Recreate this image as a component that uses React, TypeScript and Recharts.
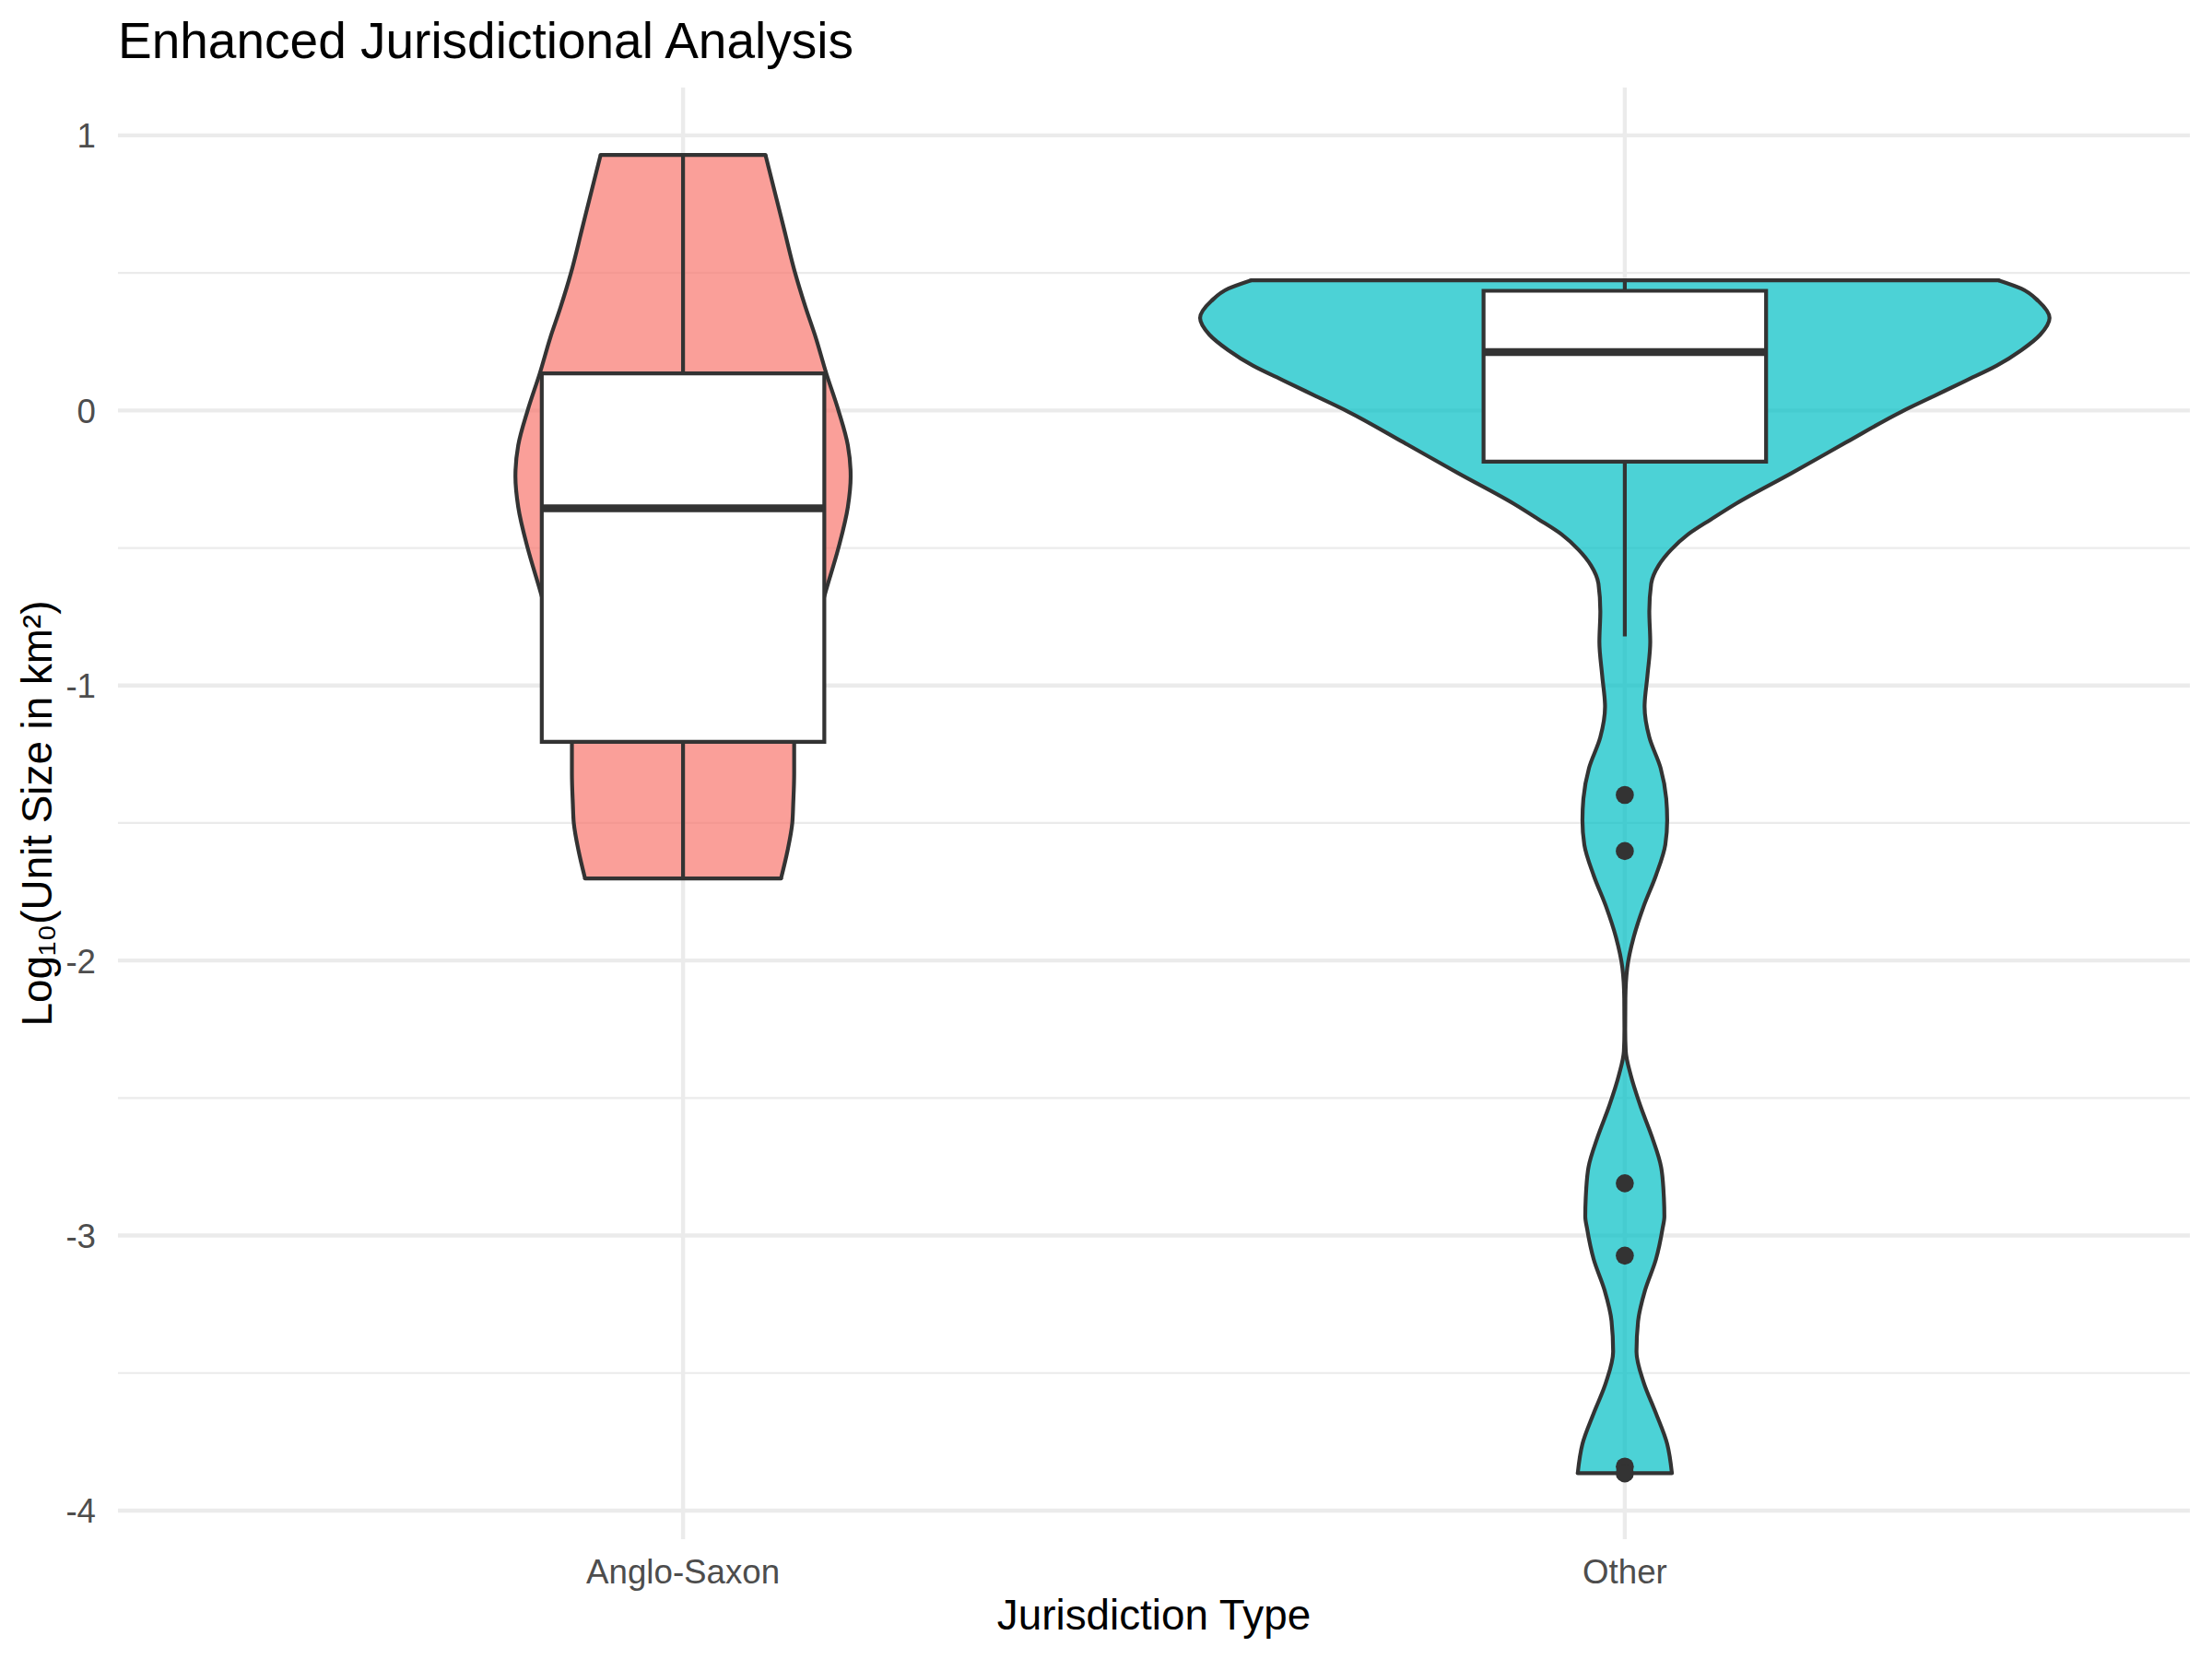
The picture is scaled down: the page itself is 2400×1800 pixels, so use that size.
import React from 'react';
import { ComposedChart, Area, Line, Scatter, XAxis, YAxis, CartesianGrid } from 'recharts';

const categories = ['Anglo-Saxon', 'Other'];

// violin outlines: log10 levels and half widths (in category units)
const angloLevels = [0.929, 0.766, 0.655, 0.5, 0.376, 0.264, 0.136, 0.0, -0.127, -0.239, -0.351, -0.5, -0.652, -0.8, -1.0, -1.2, -1.32, -1.43, -1.5, -1.6, -1.702];
const angloHalfWidths = [0.0875, 0.0995, 0.1076, 0.119, 0.13, 0.141, 0.152, 0.165, 0.175, 0.178, 0.175, 0.165, 0.152, 0.14, 0.127, 0.118, 0.118, 0.117, 0.116, 0.111, 0.104];

const otherLevels = [0.473, 0.443, 0.398, 0.336, 0.275, 0.219, 0.163, 0.108, 0.052, -0.004, -0.116, -0.228, -0.339, -0.395, -0.451, -0.507, -0.563, -0.63, -0.73, -0.842, -0.965, -1.077, -1.188, -1.3, -1.412, -1.49, -1.579, -1.691, -1.803, -1.914, -2.026, -2.138, -2.25, -2.33, -2.417, -2.529, -2.641, -2.752, -2.864, -2.93, -2.976, -3.087, -3.199, -3.311, -3.422, -3.534, -3.646, -3.758, -3.864];
const otherHalfWidths = [0.397, 0.421, 0.439, 0.451, 0.441, 0.421, 0.395, 0.362, 0.328, 0.294, 0.235, 0.177, 0.118, 0.092, 0.067, 0.049, 0.036, 0.028, 0.026, 0.027, 0.024, 0.021, 0.026, 0.038, 0.044, 0.045, 0.043, 0.033, 0.02, 0.0095, 0.0026, 0.0006, 0.0004, 0.001, 0.0063, 0.0166, 0.0288, 0.0386, 0.0415, 0.042, 0.04, 0.033, 0.0215, 0.0141, 0.0124, 0.02, 0.033, 0.045, 0.05];

// box plot stats per category
const boxLower = [-1.205, -0.186];
const boxMedian = [-0.356, 0.212];
const boxUpper = [0.135, 0.435];
const whiskerLow = [-1.702, -0.822];
const whiskerHigh = [0.929, 0.473];
const otherOutliers = [-1.398, -1.602, -2.81, -3.073, -3.84, -3.865];

const majorBreaks = [-4, -3, -2, -1, 0, 1];
const minorBreaks = [-3.5, -2.5, -1.5, -0.5, 0.5];

const FONT = "'Liberation Sans', Arial, Helvetica, sans-serif";
const INK = '#333333';
const fills = ['#F8766D', '#00BFC4'];
const BOX_HALF = 0.15;
const LINE_W = 4.2;

const profiles = [
  { levels: angloLevels, widths: angloHalfWidths },
  { levels: otherLevels, widths: otherHalfWidths },
];

const violinData = profiles.map((p, i) =>
  p.levels.map((v, j) => ({ v, band: [i + 1 - p.widths[j], i + 1 + p.widths[j]] }))
);

const violinEdges = profiles.flatMap((p, i) => {
  const last = p.levels.length - 1;
  return [
    [{ v: p.levels[0], x: i + 1 - p.widths[0] }, { v: p.levels[0], x: i + 1 + p.widths[0] }],
    [{ v: p.levels[last], x: i + 1 - p.widths[last] }, { v: p.levels[last], x: i + 1 + p.widths[last] }],
  ];
});

const boxFillData = categories.map((_, i) => [
  { v: boxUpper[i], band: [i + 1 - BOX_HALF, i + 1 + BOX_HALF] },
  { v: boxLower[i], band: [i + 1 - BOX_HALF, i + 1 + BOX_HALF] },
]);

const boxOutlineData = categories.map((_, i) => [
  { x: i + 1 - BOX_HALF, v: boxUpper[i] },
  { x: i + 1 + BOX_HALF, v: boxUpper[i] },
  { x: i + 1 + BOX_HALF, v: boxLower[i] },
  { x: i + 1 - BOX_HALF, v: boxLower[i] },
  { x: i + 1 - BOX_HALF, v: boxUpper[i] },
]);

const whiskerData = categories.flatMap((_, i) => [
  [{ x: i + 1, v: boxUpper[i] }, { x: i + 1, v: whiskerHigh[i] }],
  [{ x: i + 1, v: boxLower[i] }, { x: i + 1, v: whiskerLow[i] }],
]);

const medianData = categories.map((_, i) => [
  { x: i + 1 - BOX_HALF, v: boxMedian[i] },
  { x: i + 1 + BOX_HALF, v: boxMedian[i] },
]);

const outlierData = otherOutliers.map((v) => ({ x: 2, v }));

const XTick = ({ x, y, payload }: any) => (
  <text x={x} y={y + 48} textAnchor="middle" fontFamily={FONT} fontSize={36.7} fill="#4D4D4D">
    {categories[Math.round(payload.value) - 1]}
  </text>
);

const YTick = ({ x, y, payload }: any) => (
  <text x={x - 24} y={y + 13.5} textAnchor="end" fontFamily={FONT} fontSize={36.7} fill="#4D4D4D">
    {String(payload.value)}
  </text>
);

const XTitle = ({ viewBox }: any) => (
  <text x={viewBox.x + viewBox.width / 2} y={viewBox.y + 98} textAnchor="middle" fontFamily={FONT} fontSize={45.8} fill="#000">
    Jurisdiction Type
  </text>
);

const YTitle = ({ viewBox }: any) => {
  const cx = 56;
  const cy = viewBox.y + viewBox.height / 2;
  return (
    <text x={cx} y={cy} transform={`rotate(-90 ${cx} ${cy})`} textAnchor="middle" fontFamily={FONT} fontSize={45.8} fill="#000">
      Log₁₀(Unit Size in km²)
    </text>
  );
};

export default function App() {
  return (
    <div style={{ position: 'absolute', left: 0, top: 0, width: 2400, height: 1800, background: '#fff' }}>
      <svg width={2400} height={100} style={{ position: 'absolute', left: 0, top: 0 }}>
        <text x={128} y={63} fontFamily={FONT} fontSize={55} fill="#000">
          Enhanced Jurisdictional Analysis
        </text>
      </svg>
      <ComposedChart
        width={2400}
        height={1800}
        layout="vertical"
        margin={{ top: 95, right: 24, bottom: 0, left: 0 }}
      >
        <CartesianGrid horizontalValues={minorBreaks} vertical={false} stroke="#EBEBEB" strokeWidth={2.2} />
        <CartesianGrid horizontalValues={majorBreaks} verticalValues={[1, 2]} stroke="#EBEBEB" strokeWidth={4.4} />
        <XAxis
          type="number"
          dataKey="x"
          domain={[0.4, 2.6]}
          allowDataOverflow
          ticks={[1, 2]}
          height={130}
          axisLine={false}
          tickLine={false}
          tickSize={0}
          tickMargin={0}
          tick={<XTick />}
          label={XTitle}
        />
        <YAxis
          type="number"
          dataKey="v"
          domain={[-4.104, 1.174]}
          allowDataOverflow
          reversed
          ticks={majorBreaks}
          width={128}
          axisLine={false}
          tickLine={false}
          tickSize={0}
          tickMargin={0}
          tick={<YTick />}
          label={YTitle}
        />
        {violinData.map((d, i) => (
          <Area
            key={`violin-${i}`}
            data={d}
            dataKey="band"
            type="monotone"
            fill={fills[i]}
            fillOpacity={0.7}
            stroke={INK}
            strokeWidth={LINE_W}
            dot={false}
            activeDot={false}
            isAnimationActive={false}
          />
        ))}
        {boxFillData.map((d, i) => (
          <Area
            key={`boxfill-${i}`}
            data={d}
            dataKey="band"
            type="linear"
            fill="#FFFFFF"
            fillOpacity={1}
            stroke="none"
            dot={false}
            activeDot={false}
            isAnimationActive={false}
          />
        ))}
        {violinEdges.map((d, i) => (
          <Line key={`edge-${i}`} data={d} dataKey="x" type="linear" stroke={INK} strokeWidth={LINE_W} strokeLinecap="round" dot={false} activeDot={false} isAnimationActive={false} />
        ))}
        {whiskerData.map((d, i) => (
          <Line key={`whisker-${i}`} data={d} dataKey="x" type="linear" stroke={INK} strokeWidth={LINE_W} dot={false} activeDot={false} isAnimationActive={false} />
        ))}
        {boxOutlineData.map((d, i) => (
          <Line key={`box-${i}`} data={d} dataKey="x" type="linear" stroke={INK} strokeWidth={LINE_W} strokeLinecap="square" strokeLinejoin="miter" dot={false} activeDot={false} isAnimationActive={false} />
        ))}
        {medianData.map((d, i) => (
          <Line key={`median-${i}`} data={d} dataKey="x" type="linear" stroke={INK} strokeWidth={8.5} dot={false} activeDot={false} isAnimationActive={false} />
        ))}
        <Scatter
          data={outlierData}
          dataKey="x"
          fill={INK}
          isAnimationActive={false}
          shape={(p: any) => <circle cx={p.cx} cy={p.cy} r={9.8} fill={INK} />}
        />
      </ComposedChart>
    </div>
  );
}
